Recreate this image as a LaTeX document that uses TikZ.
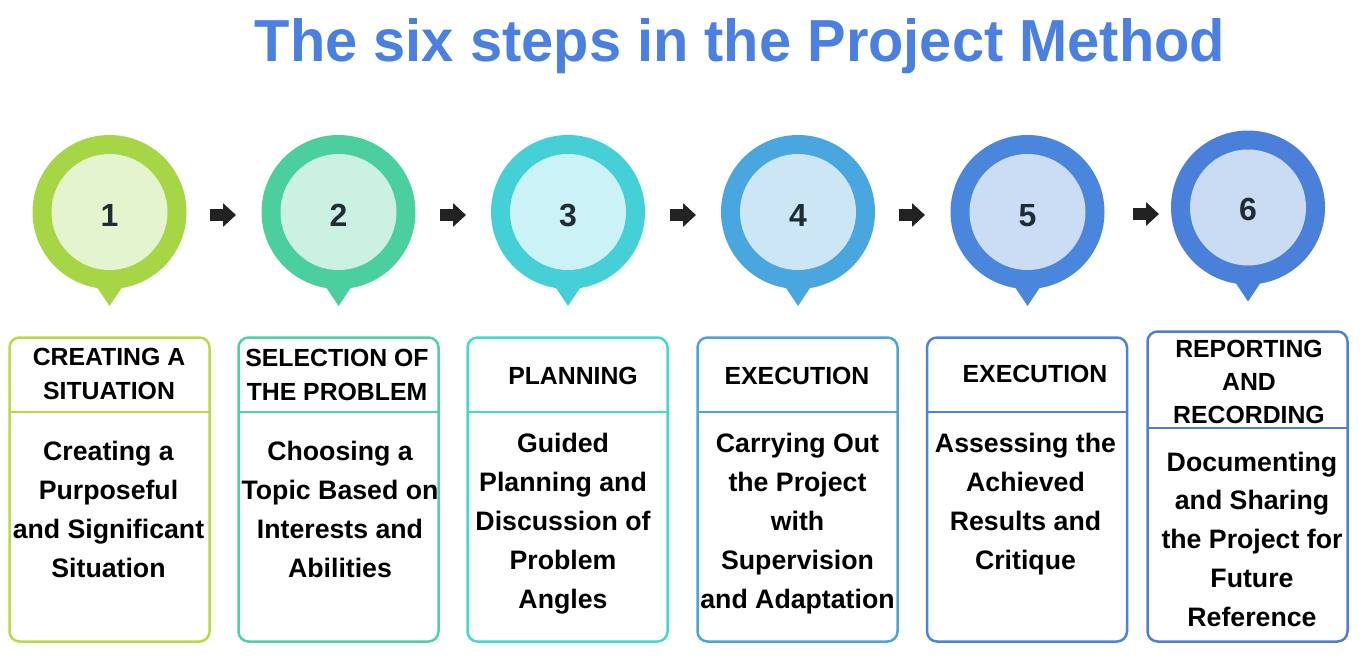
\documentclass[tikz,border=0pt]{standalone}
\usepackage{fontspec}
\usepackage{graphicx}
\setmainfont{Liberation Sans}
\usetikzlibrary{arrows.meta}
\definecolor{titlec}{HTML}{4B80E0}
\definecolor{numc}{HTML}{1F2C33}
\definecolor{arrowc}{HTML}{222222}
\definecolor{oA}{HTML}{A6D646}\definecolor{iA}{HTML}{E4F4CF}\definecolor{bA}{HTML}{B9D945}
\definecolor{oB}{HTML}{4CCF9E}\definecolor{iB}{HTML}{CBF1E2}\definecolor{bB}{HTML}{50D0A8}
\definecolor{oC}{HTML}{45D0D8}\definecolor{iC}{HTML}{CBF2F7}\definecolor{bC}{HTML}{45D8D0}
\definecolor{oD}{HTML}{4AA6DE}\definecolor{iD}{HTML}{CCE6F6}\definecolor{bD}{HTML}{4DA3DA}
\definecolor{oE}{HTML}{4A86DC}\definecolor{iE}{HTML}{CADDF4}\definecolor{bE}{HTML}{4D84D8}
\definecolor{oF}{HTML}{4A80DA}\definecolor{iF}{HTML}{C9DCF3}\definecolor{bF}{HTML}{4F80CF}
\newcommand\lns[1]{\begin{tabular}[t]{@{}c@{}}#1\end{tabular}}
\tikzset{
  pinouter/.style={circle, minimum size=154pt, inner sep=0pt, outer sep=0pt, fill=#1},
  pininner/.style={circle, minimum size=116pt, inner sep=0pt, outer sep=0pt, fill=#1},
  numtext/.style={anchor=base, inner sep=0pt, text=numc, font=\fontsize{32}{36}\selectfont\bfseries},
  stepbox/.style={draw=#1, line width=2.5pt, rounded corners=10pt, minimum width=200pt, inner sep=0pt, outer sep=0pt},
  divider/.style={color=#1, line width=2pt},
  headtext/.style={anchor=base, inner sep=0pt, font=\fontsize{24.8}{34}\selectfont\bfseries},
  bodytext/.style={anchor=base, inner sep=0pt, font=\fontsize{26.7}{39}\selectfont\bfseries},
  flowarrow/.style={draw=arrowc, line width=12pt, -{Triangle[length=13pt,width=23pt]}},
}
\begin{document}
\begin{tikzpicture}[x=1pt,y=-1pt]
\useasboundingbox (0,0) rectangle (1366,669);
\fill[white] (0,0) rectangle (1366,669);

% title
\node[anchor=base, inner sep=0pt, text=titlec] (title) at (740,62)
  {\resizebox{970pt}{43pt}{\bfseries The six steps in the Project Method}};

% pins
\foreach \n/\x/\y/\o/\i in {1/109.5/212/oA/iA, 2/338.5/212/oB/iB, 3/568/212/oC/iC, 4/798/212/oD/iD, 5/1027.5/212/oE/iE, 6/1248/207.5/oF/iF}{
  \node[pinouter=\o] (c\n) at (\x,\y) {};
  \fill[\o] ([xshift=-16pt,yshift=-70pt]c\n.center) -- ([yshift=-94pt]c\n.center) -- ([xshift=16pt,yshift=-70pt]c\n.center) -- cycle;
  \node[pininner=\i] (k\n) at (c\n) {};
}
\node[numtext] (n1) at (109.5,226) {1};
\node[numtext] (n2) at (338.5,226.5) {2};
\node[numtext] (n3) at (568,226.5) {3};
\node[numtext] (n4) at (798,226.5) {4};
\node[numtext] (n5) at (1027.5,226.5) {5};
\node[numtext] (n6) at (1248,220) {6};

% arrows
\draw[flowarrow, shorten <=23.5pt, shorten >=25.5pt] ([yshift=-3pt]c1.east) -- ([yshift=-3pt]c1.east -| c2.west);
\draw[flowarrow, shorten <=24.5pt, shorten >=25pt] ([yshift=-3pt]c2.east) -- ([yshift=-3pt]c2.east -| c3.west);
\draw[flowarrow, shorten <=25pt, shorten >=25pt] ([yshift=-3pt]c3.east) -- ([yshift=-3pt]c3.east -| c4.west);
\draw[flowarrow, shorten <=24pt, shorten >=25.5pt] ([yshift=-3pt]c4.east) -- ([yshift=-3pt]c4.east -| c5.west);
\draw[flowarrow, shorten <=28.5pt, shorten >=12pt] ([yshift=-2pt]c5.east) -- ([yshift=-2pt]c5.east -| c6.west);

% boxes
\node[stepbox=bA, minimum height=304pt] (b1) at (109.5,489.5) {};
\node[stepbox=bB, minimum height=304pt] (b2) at (338.5,489.5) {};
\node[stepbox=bC, minimum height=304pt] (b3) at (567.5,489.5) {};
\node[stepbox=bD, minimum height=304pt] (b4) at (797.5,489.5) {};
\node[stepbox=bE, minimum height=304pt] (b5) at (1027,489.5) {};
\node[stepbox=bF, minimum height=310pt] (b6) at (1247.5,486.5) {};
\draw[divider=bA] ([yshift=-74pt]b1.north west) -- ([yshift=-74pt]b1.north east);
\draw[divider=bB] ([yshift=-74pt]b2.north west) -- ([yshift=-74pt]b2.north east);
\draw[divider=bC] ([yshift=-74pt]b3.north west) -- ([yshift=-74pt]b3.north east);
\draw[divider=bD] ([yshift=-74pt]b4.north west) -- ([yshift=-74pt]b4.north east);
\draw[divider=bE] ([yshift=-74pt]b5.north west) -- ([yshift=-74pt]b5.north east);
\draw[divider=bF] ([yshift=-96pt]b6.north west) -- ([yshift=-96pt]b6.north east);

% headers
\node[headtext] (h1) at (109,365.5) {\lns{CREATING A\\SITUATION}};
\node[headtext] (h2) at (337,366) {\lns{SELECTION OF\\THE PROBLEM}};
\node[headtext] (h3) at (573,384) {\lns{PLANNING}};
\node[headtext] (h4) at (797,384) {\lns{EXECUTION}};
\node[headtext] (h5) at (1035,382) {\lns{EXECUTION}};
\node[headtext, font=\fontsize{24.8}{33}\selectfont\bfseries] (h6) at (1249,357) {\lns{REPORTING\\AND\\RECORDING}};

% bodies
\node[bodytext] (t1) at (108.5,460) {\lns{Creating a\\Purposeful\\and Significant\\Situation}};
\node[bodytext] (t2) at (340,460) {\lns{Choosing a\\Topic Based on\\Interests and\\Abilities}};
\node[bodytext] (t3) at (563,452) {\lns{Guided\\Planning and\\Discussion of\\Problem\\Angles}};
\node[bodytext] (t4) at (797.5,452) {\lns{Carrying Out\\the Project\\with\\Supervision\\and Adaptation}};
\node[bodytext] (t5) at (1025.5,452) {\lns{Assessing the\\Achieved\\Results and\\Critique}};
\node[bodytext, font=\fontsize{26.7}{38.8}\selectfont\bfseries] (t6) at (1252,471) {\lns{Documenting\\and Sharing\\the Project for\\Future\\Reference}};
\end{tikzpicture}
\end{document}
